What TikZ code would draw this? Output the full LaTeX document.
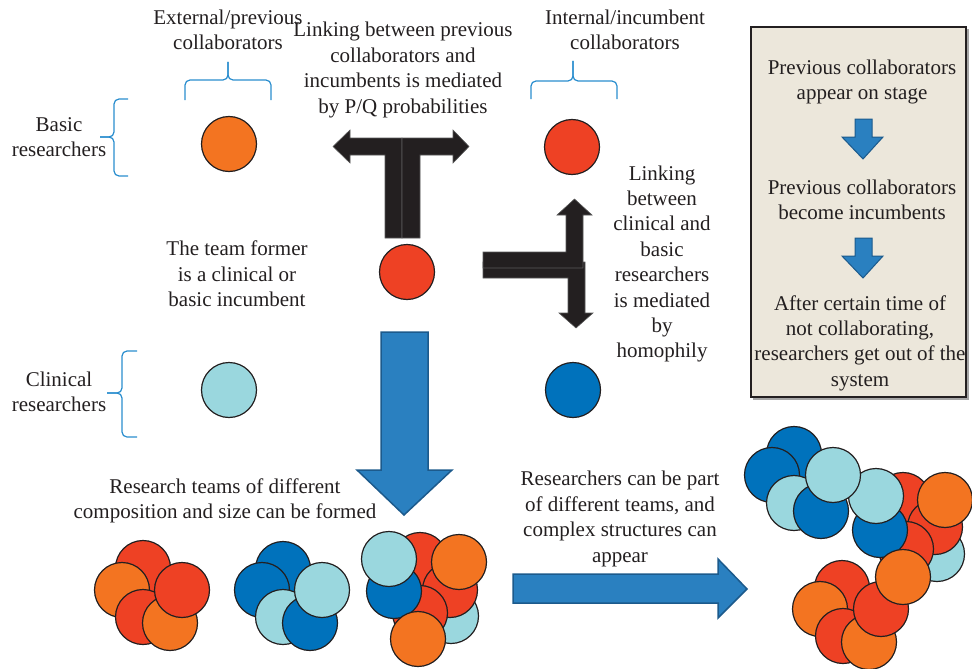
\documentclass[tikz,border=0pt]{standalone}
\usepackage{fontspec}
\setmainfont{Liberation Serif}
\usepackage{xcolor}
\usepackage{tikz}
\definecolor{orng}{RGB}{243,116,33}
\definecolor{rd}{RGB}{238,65,36}
\definecolor{lblu}{RGB}{154,215,222}
\definecolor{dblu}{RGB}{0,114,188}
\definecolor{txtc}{RGB}{35,31,32}
\definecolor{brc}{RGB}{41,141,206}
\definecolor{barr}{RGB}{42,128,192}
\definecolor{barrd}{RGB}{28,90,140}
\definecolor{boxc}{RGB}{236,231,219}

\begin{document}
\begin{tikzpicture}[x=1pt,y=-1pt]
    \tikzstyle{circ}=[circle,draw=txtc,line width=1.2pt,inner sep=0pt,minimum size=55pt]
    \tikzstyle{txt}=[align=center,text=txtc,inner sep=0pt,font=\fontsize{21}{25.4}\selectfont]
    \tikzstyle{brc}=[draw=brc,line width=1.2pt,rounded corners=5pt]
    \tikzstyle{blk}=[fill=txtc,draw=black!65,line width=0.6pt]
    \tikzstyle{barrow}=[fill=barr,draw=barrd,line width=1.5pt]
    \useasboundingbox (0,0) rectangle (972,669);

    % side box
    \fill[black!35] (753,29) rectangle (969,400);
    \draw[fill=boxc,draw=txtc,line width=2pt] (751,27) rectangle (966,397);
    \node (s1)[txt] at (862,82)  {Previous collaborators\\appear on stage};
    \node (s2)[txt] at (862,200) {Previous collaborators\\become incumbents};
    \node (s3)[txt] at (860,343) {After certain time of\\not collaborating,\\researchers get out of the\\system};
    \draw[barrow,line width=1pt] (855,119) -- (872,119) -- (872,137) -- (883,137) -- (863,159) -- (842,137) -- (855,137) -- cycle;
    \draw[barrow,line width=1pt] (855,238) -- (872,238) -- (872,256) -- (883,256) -- (863,278) -- (842,256) -- (855,256) -- cycle;

    % labels
    \node (ext)[txt] at (228,30)  {External/previous\\collaborators};
    \node (int)[txt] at (625,30)  {Internal/incumbent\\collaborators};
    \node (pq)[txt] at (403,70)   {Linking between previous\\collaborators and\\incumbents is mediated\\by P/Q probabilities};
    \node (bas)[txt] at (59,137)  {Basic\\researchers};
    \node (cli)[txt] at (59,392)  {Clinical\\researchers};
    \node (frm)[txt] at (237,274) {The team former\\is a clinical or\\basic incumbent};
    \node (hom)[txt] at (662,264) {Linking\\between\\clinical and\\basic\\researchers\\is mediated\\by\\homophily};
    \node (tms)[txt] at (225,501) {Research teams of different\\composition and size can be formed};
    \node (prt)[txt] at (620,519) {Researchers can be part\\of different teams, and\\complex structures can\\appear};

    % braces
    \draw[brc] (185,100) -- (185,80) -- (228,80) -- (228,62);
    \draw[brc] (271,100) -- (271,80) -- (228,80) -- (228,62);
    \draw[brc] (531,99) -- (531,81) -- (573,81) -- (573,61);
    \draw[brc] (617,99) -- (617,81) -- (573,81) -- (573,61);
    \draw[brc] (128,99) -- (114,99) -- (114,137) -- (100,137);
    \draw[brc] (128,176) -- (114,176) -- (114,137) -- (100,137);
    \draw[brc] (137,351) -- (122,351) -- (122,393) -- (107,393);
    \draw[brc] (137,437) -- (122,437) -- (122,393) -- (107,393);

    % researchers
    \node (ob)[circ,fill=orng] at (229,144) {};
    \node (ri)[circ,fill=rd]   at (572,147) {};
    \node (rf)[circ,fill=rd]   at (407,272) {};
    \node (lc)[circ,fill=lblu] at (229,390) {};
    \node (dc)[circ,fill=dblu] at (573,390) {};

    % black arrows
    \draw[blk] (385,238) -- (385,155) -- (350,155) -- (350,163) -- (333,146.5) -- (350,130) -- (350,138) -- (402,138) -- (402,238) -- cycle;
    \draw[blk] (402,238) -- (402,138) -- (453,138) -- (453,130) -- (469,146.5) -- (453,163) -- (453,155) -- (420,155) -- (420,238) -- cycle;
    \draw[blk] (483,262) -- (585,262) -- (585,313) -- (593,313) -- (576,328) -- (559,313) -- (568,313) -- (568,278) -- (483,278) -- cycle;
    \draw[blk] (483,252) -- (566,252) -- (566,215) -- (557,215) -- (574.5,199) -- (592,215) -- (583,215) -- (583,268) -- (483,268) -- cycle;

    % blue arrows
    \draw[barrow] (381,332) -- (428,332) -- (428,470) -- (452,470) -- (404,515) -- (357,470) -- (381,470) -- cycle;
    \draw[barrow] (513,574) -- (718,574) -- (718,559) -- (747,589) -- (718,618) -- (718,603) -- (513,603) -- cycle;

    % team 1
    \node (a1)[circ,fill=rd]   at (143,568) {};
    \node (a2)[circ,fill=orng] at (122,590) {};
    \node (a3)[circ,fill=rd]   at (143,617) {};
    \node (a4)[circ,fill=orng] at (170,623) {};
    \node (a5)[circ,fill=rd]   at (182,590) {};

    % team 2
    \node (b1)[circ,fill=dblu] at (283,569) {};
    \node (b2)[circ,fill=dblu] at (262,590) {};
    \node (b3)[circ,fill=lblu] at (283,617) {};
    \node (b4)[circ,fill=dblu] at (310,623) {};
    \node (b5)[circ,fill=lblu] at (322,590) {};

    % team 3
    \node (c1)[circ,fill=rd]   at (420,560) {};
    \node (c2)[circ,fill=lblu] at (451,616) {};
    \node (c3)[circ,fill=rd]   at (450,590) {};
    \node (c4)[circ,fill=rd]   at (420,613) {};
    \node (c5)[circ,fill=dblu] at (394,591) {};
    \node (c6)[circ,fill=lblu] at (389,559) {};
    \node (c7)[circ,fill=orng] at (459,562) {};
    \node (c8)[circ,fill=orng] at (418,639) {};

    % joined teams
    \node (d1)[circ,fill=rd]   at (903,500) {};
    \node (d2)[circ,fill=lblu] at (937,554) {};
    \node (d3)[circ,fill=rd]   at (935,527) {};
    \node (d4)[circ,fill=orng] at (945,500) {};
    \node (d5)[circ,fill=rd]   at (906,549) {};
    \node (d6)[circ,fill=dblu] at (880,530) {};
    \node (d7)[circ,fill=lblu] at (876,496) {};
    \node (e1)[circ,fill=dblu] at (794,454) {};
    \node (e2)[circ,fill=dblu] at (772,475) {};
    \node (e3)[circ,fill=lblu] at (794,503) {};
    \node (e4)[circ,fill=dblu] at (821,511) {};
    \node (e5)[circ,fill=lblu] at (833,475) {};
    \node (f1)[circ,fill=rd]   at (842,588) {};
    \node (f2)[circ,fill=orng] at (820,609) {};
    \node (f3)[circ,fill=rd]   at (843,636) {};
    \node (f4)[circ,fill=orng] at (869,642) {};
    \node (f5)[circ,fill=rd]   at (881,609) {};
    \node (f6)[circ,fill=orng] at (903,577) {};
\end{tikzpicture}
\end{document}
